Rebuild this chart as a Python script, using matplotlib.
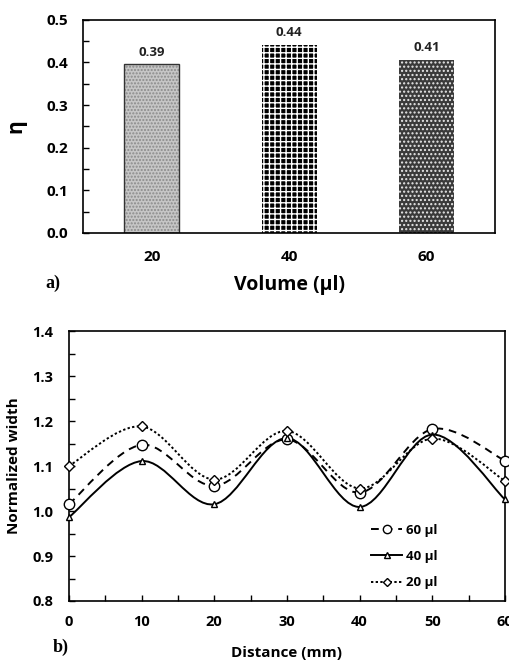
import numpy as np
import matplotlib
matplotlib.use('Agg')
import matplotlib.pyplot as plt
from matplotlib.path import Path
from matplotlib.patches import PathPatch
from matplotlib.lines import Line2D
from matplotlib.ticker import MultipleLocator, FormatStrFormatter

# data (a) bar chart
volumes = ['20', '40', '60']
eta = [0.396, 0.442, 0.406]
eta_labels = ['0.39', '0.44', '0.41']

# data (b) normalized width vs distance
distance = [0, 10, 20, 30, 40, 50, 60]
w60 = [1.015, 1.147, 1.056, 1.159, 1.041, 1.182, 1.112]
w40 = [0.986, 1.111, 1.015, 1.162, 1.009, 1.170, 1.026]
w20 = [1.100, 1.188, 1.070, 1.178, 1.050, 1.161, 1.067]

plt.rcParams['font.family'] = ['Open Sans', 'DejaVu Sans']
plt.rcParams['font.weight'] = 'bold'
plt.rcParams['axes.linewidth'] = 1.2
plt.rcParams['hatch.linewidth'] = 1.0

fig = plt.figure(figsize=(5.1, 6.6), dpi=100)

# ---- panel a ----
ax1 = fig.add_axes([0.163, 0.647, 0.808, 0.323])
x = np.arange(len(volumes))
faces = ['#c6c6c6', 'black', '#3a3a3a']
hatches = ['.....', '+++', '....']
hcolors = ['#8a8a8a', 'white', '#e8e8e8']
for i in range(len(volumes)):
    ax1.bar(x[i], eta[i], width=0.4, color=faces[i], hatch=hatches[i],
            edgecolor=hcolors[i], linewidth=0)
# outline for first bar
ax1.bar(x[0], eta[0], width=0.4, fill=False, edgecolor='#333333', linewidth=1.0)
for i in range(len(volumes)):
    ax1.annotate(eta_labels[i], (x[i], eta[i]), xytext=(0, 4), textcoords='offset points',
                 ha='center', va='bottom', fontsize=9.5, fontweight='bold', color='#222222')
ax1.set_xlim(-0.5, 2.5)
ax1.set_ylim(0, 0.5)
ax1.set_xticks(x)
ax1.set_xticklabels(volumes)
ax1.yaxis.set_major_locator(MultipleLocator(0.1))
ax1.yaxis.set_minor_locator(MultipleLocator(0.05))
ax1.yaxis.set_major_formatter(FormatStrFormatter('%.1f'))
ax1.tick_params(axis='y', which='both', direction='in', length=4, width=1, labelsize=11, pad=11)
ax1.tick_params(axis='x', length=0, labelsize=11, pad=12)
ax1.set_ylabel('η', fontsize=15, fontweight='bold', labelpad=14)
ax1.set_xlabel('Volume (µl)', fontsize=14, fontweight='bold', labelpad=8)
fig.text(0.088, 0.563, 'a)', family='Liberation Serif', fontsize=13, fontweight='bold')


# ---- panel b ----
def smooth_path(xs, ys):
    # Excel-like smoothed line as cubic bezier segments
    xs = np.asarray(xs, float)
    ys = np.asarray(ys, float)
    px = np.concatenate([[xs[0]], xs, [xs[-1]]])
    py = np.concatenate([[ys[0]], ys, [ys[-1]]])
    verts = [(xs[0], ys[0])]
    codes = [Path.MOVETO]
    for i in range(1, len(xs)):
        c1 = (px[i] + (px[i + 1] - px[i - 1]) / 6, py[i] + (py[i + 1] - py[i - 1]) / 6)
        c2 = (px[i + 1] - (px[i + 2] - px[i]) / 6, py[i + 1] - (py[i + 2] - py[i]) / 6)
        verts += [c1, c2, (px[i + 1], py[i + 1])]
        codes += [Path.CURVE4] * 3
    return Path(verts, codes)


ax2 = fig.add_axes([0.135, 0.0894, 0.855, 0.409])
series = [(w60, (0, (4, 3)), 'o', 7.5, '60 µl'),
          (w40, '-', '^', 5, '40 µl'),
          (w20, (0, (1.2, 1.2)), 'D', 5.5, '20 µl')]
handles = []
for ys, ls, mk, ms, lab in series:
    ax2.add_patch(PathPatch(smooth_path(distance, ys), fill=False, edgecolor='black',
                            linewidth=1.4, linestyle=ls, zorder=2))
    ax2.plot(distance, ys, linestyle='none', marker=mk, markersize=ms,
             markerfacecolor='white', markeredgecolor='black', markeredgewidth=1.0,
             zorder=3, clip_on=False)
    handles.append(Line2D([], [], color='black', linestyle=ls, linewidth=1.4, marker=mk,
                          markersize=ms * 0.8, markerfacecolor='white',
                          markeredgecolor='black', label=lab))
ax2.set_xlim(0, 60)
ax2.set_ylim(0.8, 1.4)
ax2.xaxis.set_major_locator(MultipleLocator(10))
ax2.xaxis.set_minor_locator(MultipleLocator(5))
ax2.yaxis.set_major_locator(MultipleLocator(0.1))
ax2.yaxis.set_minor_locator(MultipleLocator(0.05))
ax2.yaxis.set_major_formatter(FormatStrFormatter('%.1f'))
ax2.tick_params(axis='y', which='both', direction='in', length=4, width=1, labelsize=10.5, pad=11)
ax2.tick_params(axis='x', which='both', direction='in', length=4, width=1, labelsize=10.5, pad=10)
ax2.set_ylabel('Normalized width', fontsize=11, fontweight='bold', labelpad=8)
ax2.set_xlabel('Distance (mm)', fontsize=11, fontweight='bold', labelpad=12)
ax2.legend(handles=handles, loc='upper left', bbox_to_anchor=(0.665, 0.33), frameon=False,
           labelspacing=1.0, handlelength=2.4, handletextpad=0.3,
           prop={'size': 9.5, 'weight': 'bold'})
fig.text(0.104, 0.012, 'b)', family='Liberation Serif', fontsize=13, fontweight='bold')

fig.savefig('out.png', dpi=100)
